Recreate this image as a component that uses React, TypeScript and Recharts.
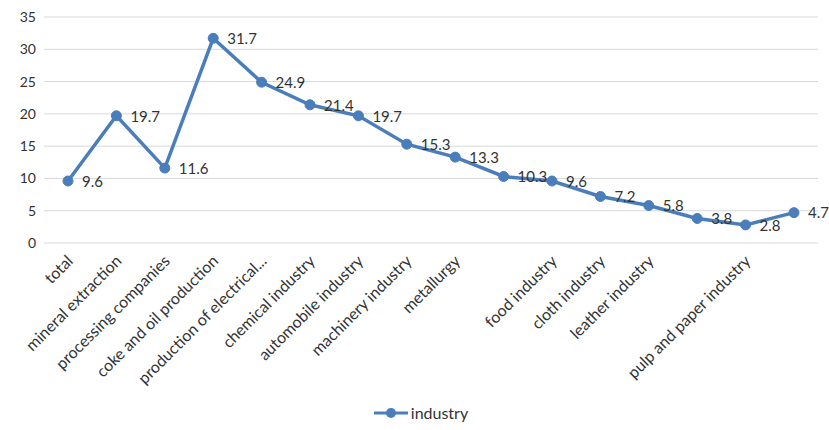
import React from 'react';
import { LineChart, Line, XAxis, YAxis, CartesianGrid, Legend, LabelList } from 'recharts';

const categories = [
  'total',
  'mineral extraction',
  'processing companies',
  'coke and oil production',
  'production of electrical...',
  'chemical industry',
  'automobile industry',
  'machinery industry',
  'metallurgy',
  '',
  'food industry',
  'cloth industry',
  'leather industry',
  '',
  'pulp and paper industry',
  '',
];
const industry = [9.6, 19.7, 11.6, 31.7, 24.9, 21.4, 19.7, 15.3, 13.3, 10.3, 9.6, 7.2, 5.8, 3.8, 2.8, 4.7];
const yTicks = [0, 5, 10, 15, 20, 25, 30, 35];
const seriesName = 'industry';

const data = categories.map((c, i) => ({ idx: i, name: c, industry: industry[i] }));

const FONT = 'Lato, "Liberation Sans", sans-serif';
const COLOR = '#4a7ebb';
const TEXT = '#333333';

const XTick = (props: any) => {
  const { x, y, payload } = props;
  const label = categories[payload.value] ?? '';
  return (
    <g transform={`translate(${x - 2},${y + 3}) rotate(-45)`}>
      <text x={0} y={0} dy="0.71em" textAnchor="end" fontSize={16} fill={TEXT} fontFamily={FONT}>
        {label}
      </text>
    </g>
  );
};

const DataLabel = (props: any) => {
  const { x, y, value } = props;
  return (
    <text
      x={x + 14}
      y={y + 2}
      fontSize={15}
      fill={TEXT}
      fontFamily={FONT}
      textAnchor="start"
      dominantBaseline="middle"
    >
      {value}
    </text>
  );
};

export default function App() {
  return (
    <div style={{ position: 'absolute', left: 0, top: 0, background: '#fff' }}>
      <LineChart width={829} height={430} data={data} margin={{ top: 17, right: 11, left: 0, bottom: 0 }}>
        <CartesianGrid vertical={false} stroke="#d9d9d9" />
        <XAxis
          dataKey="idx"
          type="category"
          axisLine={false}
          tickLine={false}
          interval={0}
          height={160}
          padding={{ left: 24, right: 24 }}
          tick={<XTick />}
        />
        <YAxis
          domain={[0, 35]}
          ticks={yTicks}
          axisLine={false}
          tickLine={false}
          width={44}
          tick={{ fontSize: 14, fill: TEXT, fontFamily: FONT }}
        />
        <Legend
          verticalAlign="bottom"
          align="center"
          height={27}
          content={() => (
            <div style={{ display: 'flex', justifyContent: 'center', alignItems: 'center', fontFamily: FONT, fontSize: 16, color: TEXT, paddingLeft: 24 }}>
              <svg width={34} height={12} style={{ marginRight: 3 }}>
                <line x1={0} y1={6} x2={34} y2={6} stroke={COLOR} strokeWidth={3} />
                <circle cx={17} cy={6} r={5} fill={COLOR} />
              </svg>
              <span>{seriesName}</span>
            </div>
          )}
        />
        <Line
          type="linear"
          dataKey="industry"
          name={seriesName}
          stroke={COLOR}
          strokeWidth={3.5}
          dot={{ r: 5, fill: COLOR, stroke: COLOR, strokeWidth: 1 }}
          isAnimationActive={false}
        >
          <LabelList dataKey="industry" content={<DataLabel />} />
        </Line>
      </LineChart>
    </div>
  );
}
